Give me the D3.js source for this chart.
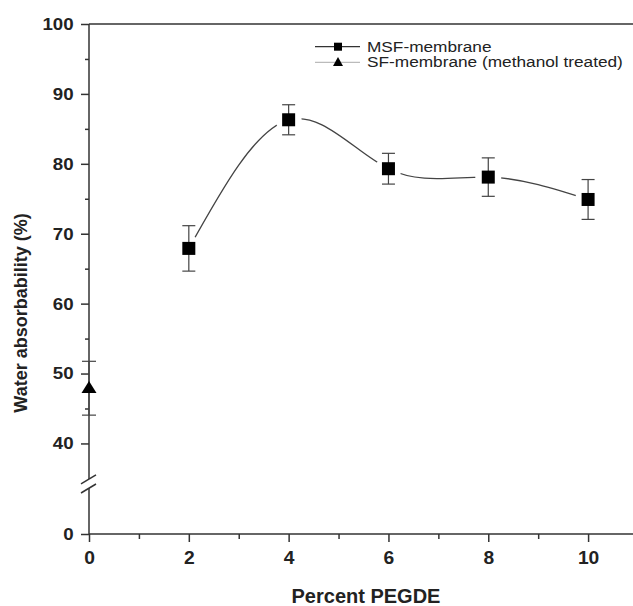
<!DOCTYPE html>
<html><head><meta charset="utf-8">
<script src="https://cdn.jsdelivr.net/npm/d3@7"></script>
<style>
body{margin:0;background:#fff;}
svg{display:block;}
text{font-family:"Liberation Sans",Arial,sans-serif;}
</style></head>
<body><svg id="c" width="633" height="606"></svg>
<script>
const categories = [2, 4, 6, 8, 10];
const msfValues = [67.9, 86.3, 79.3, 78.1, 74.9];
const msfErrors = [3.25, 2.15, 2.2, 2.75, 2.85];
const sfX = [0];
const sfValues = [47.9];
const sfErrors = [3.85];
const xTickValues = [0, 2, 4, 6, 8, 10];
const xMinorValues = [1, 3, 5, 7, 9];
const yTickValues = [0, 40, 50, 60, 70, 80, 90, 100];
const yMinorValues = [45, 55, 65, 75, 85, 95];
const seriesNames = ["MSF-membrane", "SF-membrane (methanol treated)"];
const xTitle = "Percent PEGDE";
const yTitle = "Water absorbability (%)";

const svg = d3.select("#c");
const axisColor = "#333";
const x = d3.scaleLinear().domain([0, 11]).range([89, 638]);
const y = d3.scaleLinear().domain([0, 6.6, 35, 100]).range([534, 488, 478.4, 24]);
const sx = 1.1;

// top frame line
svg.append("line").attr("x1", x(0)).attr("x2", 633).attr("y1", y(100)).attr("y2", y(100))
  .attr("stroke", "#666").attr("stroke-width", 2);

// X axis
const gx = svg.append("g").attr("transform", `translate(0,${y(0)})`);
gx.call(d3.axisBottom(x).tickValues(xTickValues).tickSize(8).tickPadding(10).tickFormat(d3.format("d")));
gx.append("g").call(d3.axisBottom(x).tickValues(xMinorValues.concat([11])).tickSize(5).tickFormat(""))
  .select(".domain").remove();
gx.selectAll(".domain").attr("d", `M${x(0)},0H640`);
gx.selectAll("line, path").attr("stroke", axisColor).attr("stroke-width", 1.5);
gx.selectAll("text").attr("fill", "#222").style("font-size", "17.5px").style("font-weight", "bold")
  .attr("transform", `scale(${sx},1)`);

// Y axis
const gy = svg.append("g").attr("transform", `translate(${x(0)},0)`);
gy.call(d3.axisLeft(y).tickValues(yTickValues).tickSize(8).tickPadding(6).tickFormat(d3.format("d")));
gy.append("g").call(d3.axisLeft(y).tickValues(yMinorValues).tickSize(4).tickFormat(""))
  .select(".domain").remove();
gy.select(".domain").remove();
const brkUp = y(33.5), brkLo = y(6.6);
gy.append("line").attr("x1", 0).attr("x2", 0).attr("y1", y(100)).attr("y2", brkUp);
gy.append("line").attr("x1", 0).attr("x2", 0).attr("y1", brkLo).attr("y2", y(0));
[brkUp, brkLo].forEach(b => {
  gy.append("line").attr("x1", -8).attr("x2", 7).attr("y1", b + 5).attr("y2", b - 4);
});
gy.selectAll("line, path").attr("stroke", axisColor).attr("stroke-width", 1.5);
gy.selectAll("text").attr("fill", "#222").style("font-size", "17px").style("font-weight", "bold")
  .attr("transform", `scale(${sx},1)`);

// Axis titles
svg.append("text").attr("x", x(5.55)).attr("y", 603).attr("text-anchor", "middle")
  .style("font-size", "20px").style("font-weight", "bold").attr("fill", "#222").text(xTitle);
svg.append("text").attr("transform", `translate(27,313) rotate(-90)`).attr("text-anchor", "middle")
  .style("font-size", "18px").style("font-weight", "bold").attr("fill", "#222").text(yTitle);

// MSF curve
const pts = categories.map((c, i) => [x(c), y(msfValues[i])]);
svg.append("path").attr("d", d3.line().curve(d3.curveNatural)(pts))
  .attr("fill", "none").attr("stroke", "#444").attr("stroke-width", 1.3);
// halos to make gaps
svg.selectAll(".halo").data(categories).join("circle")
  .attr("cx", d => x(d)).attr("cy", (d, i) => y(msfValues[i])).attr("r", 13).attr("fill", "#fff");

// error bars
function errBar(cx, v, e, w) {
  const g = svg.append("g").attr("stroke", "#444").attr("stroke-width", 1.2);
  g.append("line").attr("x1", cx).attr("x2", cx).attr("y1", y(v + e)).attr("y2", y(v - e));
  g.append("line").attr("x1", cx - w/2).attr("x2", cx + w/2).attr("y1", y(v + e)).attr("y2", y(v + e));
  g.append("line").attr("x1", cx - w/2).attr("x2", cx + w/2).attr("y1", y(v - e)).attr("y2", y(v - e));
}
categories.forEach((c, i) => errBar(x(c), msfValues[i], msfErrors[i], 13));
sfX.forEach((c, i) => errBar(x(c), sfValues[i], sfErrors[i], 14));

// markers
svg.selectAll(".sq").data(categories).join("rect")
  .attr("x", d => x(d) - 6.5).attr("y", (d, i) => y(msfValues[i]) - 6.5)
  .attr("width", 13).attr("height", 13).attr("fill", "#000");
const tri = (cx, cy, w, h) => `M${cx},${cy - h*0.6}L${cx + w/2},${cy + h*0.4}L${cx - w/2},${cy + h*0.4}Z`;
sfX.forEach((c, i) => svg.append("path").attr("d", tri(x(c), y(sfValues[i]), 15, 12)).attr("fill", "#000"));

// legend
const lg = svg.append("g");
const rows = [46.7, 62.3];
lg.append("line").attr("x1", 315).attr("x2", 360).attr("y1", rows[0]).attr("y2", rows[0]).attr("stroke", "#333").attr("stroke-width", 1.3);
lg.append("rect").attr("x", 338 - 4).attr("y", rows[0] - 4).attr("width", 8).attr("height", 8).attr("fill", "#000");
lg.append("line").attr("x1", 315).attr("x2", 360).attr("y1", rows[1]).attr("y2", rows[1]).attr("stroke", "#bbb").attr("stroke-width", 1.3);
lg.append("path").attr("d", tri(338, rows[1], 10, 9)).attr("fill", "#000");
seriesNames.forEach((n, i) => {
  lg.append("text").attr("transform", `translate(367,${rows[i] + 5}) scale(1.15,1)`)
    .style("font-size", "15px").attr("fill", "#222").text(n);
});
</script></body></html>
